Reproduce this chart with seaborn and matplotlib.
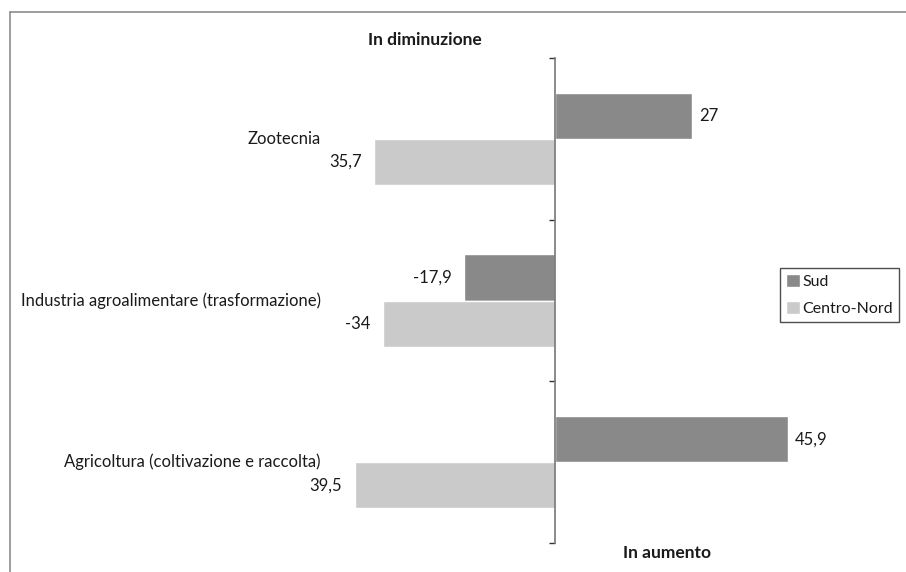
import pandas as pd
import matplotlib.pyplot as plt
import seaborn as sns
from matplotlib.lines import Line2D

# data
categories = ['Zootecnia',
              'Industria agroalimentare (trasformazione)',
              'Agricoltura (coltivazione e raccolta)']
series = ['Sud', 'Centro-Nord']
sud = [27, -17.9, 45.9]
centro_nord = [-35.7, -34, -39.5]
# labels as printed on the chart
sud_labels = ['27', '-17,9', '45,9']
cn_labels = ['35,7', '-34', '39,5']
colors = ['#888988', '#c9cac9']

df = pd.DataFrame({
    'settore': categories * 2,
    'area': [series[0]] * 3 + [series[1]] * 3,
    'valore': sud + centro_nord,
})

sns.set_theme(style='white')
plt.rcParams['font.family'] = ['Lato', 'DejaVu Sans']
plt.rcParams['text.color'] = '#1a1a1a'
FS = 12

W, H = 906, 572
zero_px, scale = 555, 5.07          # pixel of the zero line, pixels per unit
left_px, right_px = 20, 890
top_px, bot_px = 58, 543

fig = plt.figure(figsize=(W / 100, H / 100), dpi=100)
ax = fig.add_axes([left_px / W, 1 - bot_px / H,
                   (right_px - left_px) / W, (bot_px - top_px) / H])

sns.barplot(data=df, y='settore', x='valore', hue='area', orient='h',
            palette=colors, saturation=1, width=0.57, ax=ax)

ax.set_xlim((left_px - zero_px) / scale, (right_px - zero_px) / scale)
ax.set_ylim(2.5, -0.5)
ax.set_xlabel('')
ax.set_ylabel('')
ax.set_xticks([])
ax.set_yticks([])
ax.set_yticks([-0.5, 0.5, 1.5, 2.5], minor=True)
ax.tick_params(axis='y', which='minor', left=True, length=4, width=1,
               color='#333333', direction='out')

for s in ['top', 'right', 'bottom']:
    ax.spines[s].set_visible(False)
ax.spines['left'].set_position(('data', 0))
ax.spines['left'].set_color('#777777')
ax.spines['left'].set_linewidth(1.2)
ax.spines['left'].set_zorder(5)

# value labels
for container, labels in zip(ax.containers, [sud_labels, cn_labels]):
    for bar, txt in zip(container, labels):
        w = bar.get_width()
        yc = bar.get_y() + bar.get_height() / 2
        if w >= 0:
            ax.annotate(txt, (w, yc), xytext=(5, 0), textcoords='offset points',
                        ha='left', va='center', fontsize=FS)
        else:
            ax.annotate(txt, (w, yc), xytext=(-9, 0), textcoords='offset points',
                        ha='right', va='center', fontsize=FS)

# category labels
for i, cat in enumerate(categories):
    ax.text((321 - zero_px) / scale, i, cat, ha='right', va='center', fontsize=FS)

fig.text(425 / W, 1 - 40 / H, 'In diminuzione', ha='center', va='center',
         fontsize=12.5, fontweight='bold')
fig.text(667 / W, 1 - 553 / H, 'In aumento', ha='center', va='center',
         fontsize=12.5, fontweight='bold')

handles, labels = ax.get_legend_handles_labels()
if ax.get_legend() is not None:
    ax.get_legend().remove()
leg = fig.legend(handles, labels, loc='upper left',
                 bbox_to_anchor=(780 / W, 1 - 268 / H), bbox_transform=fig.transFigure,
                 borderaxespad=0, fancybox=False, frameon=True, fontsize=11.5,
                 handlelength=0.9, handleheight=0.9, handletextpad=0.1,
                 labelspacing=0.75, borderpad=0.38)
leg.get_frame().set_edgecolor('#222222')
leg.get_frame().set_linewidth(1)

# grey frame around the figure (top and left edges visible)
fig.add_artist(Line2D([10 / W, 1], [1 - 12 / H, 1 - 12 / H],
                      transform=fig.transFigure, color='#8c8c8c', lw=1.2))
fig.add_artist(Line2D([10 / W, 10 / W], [0, 1 - 12 / H],
                      transform=fig.transFigure, color='#8c8c8c', lw=1.2))

fig.savefig('out.png', dpi=100)
